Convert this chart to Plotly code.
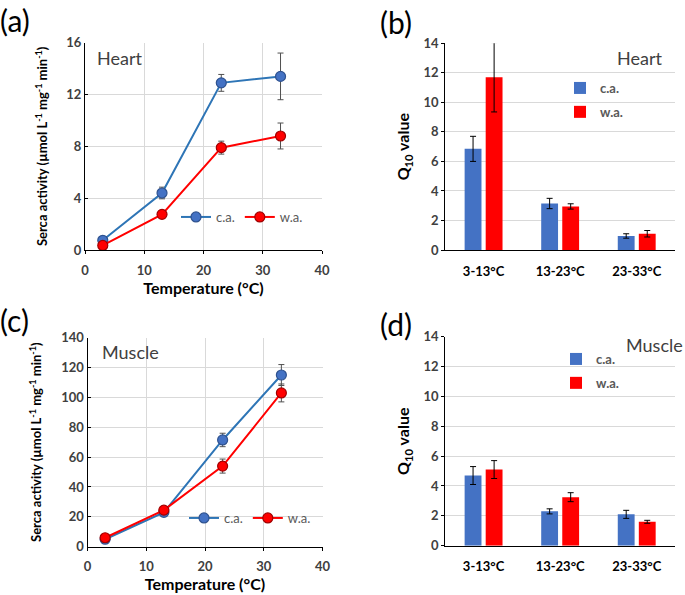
import plotly.graph_objects as go

# ---------------- data ----------------
temps = [3, 13, 23, 33]
heart_ca = [0.75, 4.4, 12.9, 13.4]
heart_ca_err = [0.2, 0.45, 0.65, 1.8]
heart_wa = [0.35, 2.75, 7.9, 8.8]
heart_wa_err = [0.1, 0.15, 0.5, 1.0]

muscle_ca = [5, 23, 71.5, 115]
muscle_ca_err = [1.0, 2.0, 4.5, 7.0]
muscle_wa = [6, 24.5, 54, 103]
muscle_wa_err = [1.0, 2.0, 4.7, 6.0]

ranges = ["3-13°C", "13-23°C", "23-33°C"]
q10_heart_ca = [6.85, 3.15, 0.95]
q10_heart_ca_err = [0.85, 0.35, 0.15]
q10_heart_wa = [11.7, 2.95, 1.1]
q10_heart_wa_err = [2.35, 0.18, 0.22]
q10_muscle_ca = [4.7, 2.3, 2.1]
q10_muscle_ca_err = [0.6, 0.17, 0.27]
q10_muscle_wa = [5.1, 3.25, 1.6]
q10_muscle_wa_err = [0.6, 0.3, 0.1]

series_names = ["c.a.", "w.a."]

# ---------------- style ----------------
W, H = 685, 595
FONT = "Lato"
BLUE_LINE = "#2E75B6"
BLUE_FILL = "#4472C4"
BLUE_EDGE = "#2F528F"
RED = "#FF0000"
RED_EDGE = "#A00000"
ERR = "#505050"
GRID = "#D9D9D9"
TICKC = "#404040"


def px(x0, x1):
    return [x0 / W, x1 / W]


def py(top, bottom):
    return [1 - bottom / H, 1 - top / H]


fig = go.Figure()

# line panels
line_panels = [
    ("x", "y", heart_ca, heart_ca_err, heart_wa, heart_wa_err, "legend"),
    ("x3", "y3", muscle_ca, muscle_ca_err, muscle_wa, muscle_wa_err, "legend3"),
]
for xa, ya, ca, cae, wa, wae, lg in line_panels:
    for name, vals, errs, lc, fc, ec, grp in [
        (series_names[0], ca, cae, BLUE_LINE, BLUE_FILL, BLUE_EDGE, "g1"),
        (series_names[1], wa, wae, RED, RED, RED_EDGE, "g2"),
    ]:
        fig.add_trace(go.Scatter(
            x=temps, y=vals, name=name, mode="lines+markers",
            xaxis=xa, yaxis=ya, legend=lg, legendgroup=grp,
            line=dict(color=lc, width=2),
            marker=dict(size=10, color=fc, line=dict(color=ec, width=1.2)),
            error_y=dict(type="data", array=errs, color=ERR, thickness=1, width=3),
        ))

# bar panels
bar_panels = [
    ("x2", "y2", q10_heart_ca, q10_heart_ca_err, q10_heart_wa, q10_heart_wa_err, "legend2"),
    ("x4", "y4", q10_muscle_ca, q10_muscle_ca_err, q10_muscle_wa, q10_muscle_wa_err, "legend4"),
]
for xa, ya, ca, cae, wa, wae, lg in bar_panels:
    for name, vals, errs, col, grp in [
        (series_names[0], ca, cae, BLUE_FILL, "g1"),
        (series_names[1], wa, wae, RED, "g2"),
    ]:
        fig.add_trace(go.Bar(
            x=ranges, y=vals, name=name, xaxis=xa, yaxis=ya,
            legend=lg, legendgroup=grp,
            marker=dict(color=col, line=dict(width=0)),
            error_y=dict(type="data", array=errs, color="#000000", thickness=1, width=3),
        ))

tickfont = dict(family=FONT, size=13, color=TICKC, weight="bold")
ytitle = "Serca activity (µmol L<sup>-1</sup> mg<sup>-1</sup> min<sup>-1</sup>)"

common_lin_x = dict(range=[0, 40], dtick=10, showgrid=True, gridcolor=GRID, gridwidth=1,
                    showline=True, linecolor="#000000", linewidth=1.3,
                    ticks="outside", ticklen=3, tickcolor="#000000",
                    tickfont=tickfont, zeroline=False, automargin=False,
                    ticklabelstandoff=5,
                    title=dict(text="Temperature (°C)",
                               font=dict(family=FONT, size=16, color="#000000", weight="bold"),
                               standoff=5))

ytitle_font = dict(family=FONT, size=13, color="#000000", weight="bold")
cat_font = dict(family=FONT, size=13, color="#000000", weight="bold")

fig.update_layout(
    width=W, height=H, margin=dict(l=0, r=0, t=0, b=0, autoexpand=False),
    paper_bgcolor="white", plot_bgcolor="white",
    barmode="group", bargap=0.45, bargroupgap=0.2,
    font=dict(family=FONT),
    xaxis=dict(domain=px(85, 322), anchor="y", **common_lin_x),
    yaxis=dict(domain=py(42.7, 250), anchor="x", range=[0, 16], dtick=4, automargin=False,
               showgrid=True, gridcolor=GRID, showline=True, linecolor="#000000", linewidth=1.3,
               ticks="inside", ticklen=3, tickcolor="#000000", tickfont=tickfont, zeroline=False,
               title=dict(text=ytitle, font=ytitle_font, standoff=15)),
    xaxis3=dict(domain=px(87.5, 322.5), anchor="y3", **common_lin_x),
    yaxis3=dict(domain=py(337.7, 546.7), anchor="x3", range=[0, 140], dtick=20, automargin=False,
                showgrid=True, gridcolor=GRID, showline=True, linecolor="#000000", linewidth=1.3,
                ticks="inside", ticklen=3, tickcolor="#000000", tickfont=tickfont, zeroline=False,
                title=dict(text=ytitle, font=ytitle_font, standoff=16)),
    xaxis2=dict(domain=px(445.3, 675), anchor="y2", showline=True, linecolor="#000000", linewidth=1.3,
                ticks="", tickfont=cat_font,
                ticklabelstandoff=9, showgrid=False, automargin=False),
    yaxis2=dict(domain=py(43.3, 250), anchor="x2", range=[0, 14], dtick=2, automargin=False,
                showgrid=True, gridcolor=GRID, showline=True, linecolor="#000000", linewidth=1.3,
                ticks="outside", ticklen=3, tickcolor="#000000", tickfont=tickfont, zeroline=False,
                title=dict(text="Q<sub>10</sub> value",
                           font=dict(family=FONT, size=16, color="#000000", weight="bold"),
                           standoff=9)),
    xaxis4=dict(domain=px(445.3, 675), anchor="y4", showline=True, linecolor="#000000", linewidth=1.3,
                ticks="", tickfont=cat_font,
                ticklabelstandoff=9, showgrid=False, automargin=False),
    yaxis4=dict(domain=py(336.7, 545.7), anchor="x4", range=[0, 14], dtick=2, automargin=False,
                showgrid=True, gridcolor=GRID, showline=True, linecolor="#000000", linewidth=1.3,
                ticks="outside", ticklen=3, tickcolor="#000000", tickfont=tickfont, zeroline=False,
                title=dict(text="Q<sub>10</sub> value",
                           font=dict(family=FONT, size=16, color="#000000", weight="bold"),
                           standoff=9)),
    legend=dict(orientation="h", x=176 / W, y=1 - 217 / H, xanchor="left", yanchor="middle",
                bgcolor="rgba(0,0,0,0)", font=dict(family=FONT, size=13, color="#595959"),
                itemwidth=30, tracegroupgap=0),
    legend3=dict(orientation="h", x=184 / W, y=1 - 518 / H, xanchor="left", yanchor="middle",
                 bgcolor="rgba(0,0,0,0)", font=dict(family=FONT, size=13, color="#595959"),
                 itemwidth=30, tracegroupgap=0),
    legend2=dict(orientation="v", x=560 / W, y=1 - 100 / H, xanchor="left", yanchor="middle",
                 bgcolor="rgba(0,0,0,0)", font=dict(family=FONT, size=13, color="#595959", weight="bold"),
                 tracegroupgap=4),
    legend4=dict(orientation="v", x=556 / W, y=1 - 371 / H, xanchor="left", yanchor="middle",
                 bgcolor="rgba(0,0,0,0)", font=dict(family=FONT, size=13, color="#595959", weight="bold"),
                 tracegroupgap=4),
)

ann_font = dict(family=FONT, size=18, color="#404040")
panel_font = dict(family=FONT, size=30, color="#000000")
annotations = [
    dict(text="Heart", x=95 / W, y=1 - 58 / H, xanchor="left", yanchor="middle", font=ann_font),
    dict(text="Heart", x=664 / W, y=1 - 58 / H, xanchor="right", yanchor="middle", font=ann_font),
    dict(text="Muscle", x=100 / W, y=1 - 352 / H, xanchor="left", yanchor="middle", font=ann_font),
    dict(text="Muscle", x=624 / W, y=1 - 345 / H, xanchor="left", yanchor="middle", font=ann_font),
    dict(text="(a)", x=-2 / W, y=1 - 20 / H, xanchor="left", yanchor="middle", font=panel_font),
    dict(text="(b)", x=378 / W, y=1 - 22 / H, xanchor="left", yanchor="middle", font=panel_font),
    dict(text="(c)", x=-2 / W, y=1 - 320 / H, xanchor="left", yanchor="middle", font=panel_font),
    dict(text="(d)", x=378 / W, y=1 - 324 / H, xanchor="left", yanchor="middle", font=panel_font),
]
for a in annotations:
    a.update(xref="paper", yref="paper", showarrow=False)
fig.update_layout(annotations=annotations)

fig.write_html(
    "out.html",
    config={"displayModeBar": False},
    post_script="document.body.style.margin='0';document.body.style.overflow='hidden';",
)
